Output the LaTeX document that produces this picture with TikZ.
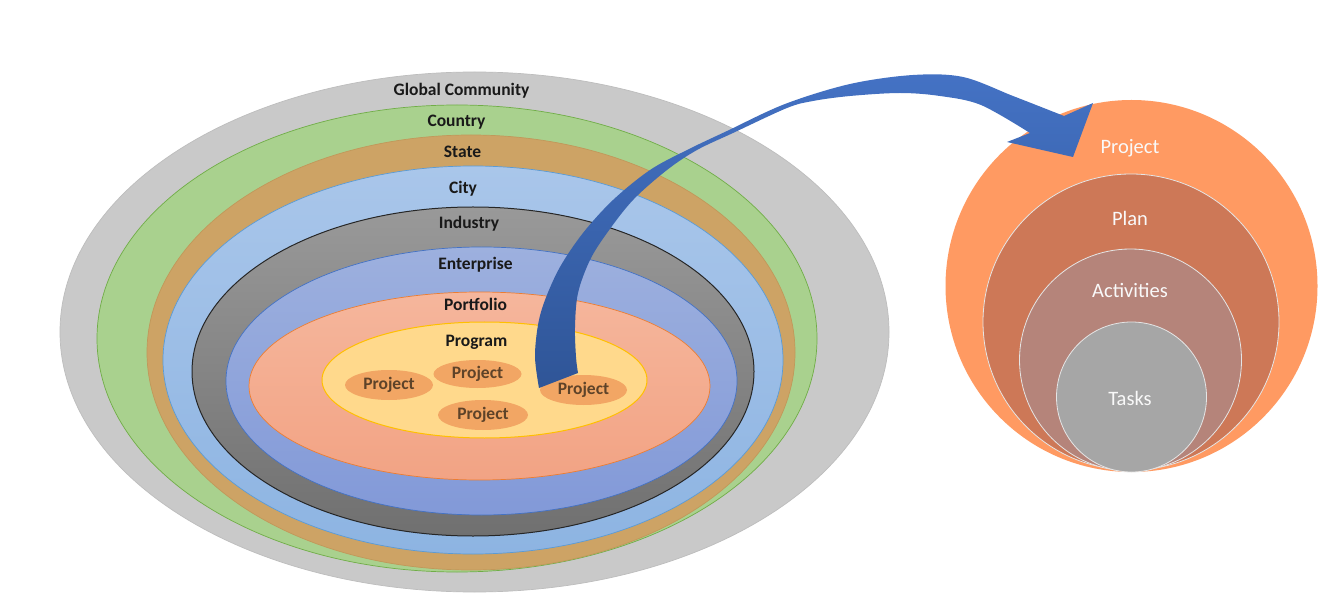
\documentclass[tikz,border=0pt]{standalone}
\usepackage{fontspec}
\setmainfont{Carlito}
\usetikzlibrary{shapes.geometric}
\definecolor{ringgray}{HTML}{C9C9C9}
\definecolor{ringgrayline}{HTML}{BDBDBD}
\definecolor{ringgreen}{HTML}{A9D18E}
\definecolor{ringgreenline}{HTML}{70AD47}
\definecolor{ringtan}{HTML}{CDA365}
\definecolor{ringtanline}{HTML}{C1985A}
\definecolor{ringskytop}{HTML}{A9C6EA}
\definecolor{ringskybot}{HTML}{8DB4E2}
\definecolor{ringskyline}{HTML}{5B9BD5}
\definecolor{ringsteeltop}{HTML}{999999}
\definecolor{ringsteelbot}{HTML}{707070}
\definecolor{ringbluetop}{HTML}{9DB0DE}
\definecolor{ringbluebot}{HTML}{8299D8}
\definecolor{ringblueline}{HTML}{4472C4}
\definecolor{ringsalmontop}{HTML}{F5B69C}
\definecolor{ringsalmonbot}{HTML}{F2A384}
\definecolor{ringsalmonline}{HTML}{ED7D31}
\definecolor{ringyellow}{HTML}{FFD98C}
\definecolor{ringyellowline}{HTML}{FFC000}
\definecolor{projorange}{HTML}{F2A664}
\definecolor{projtext}{HTML}{5E4329}
\definecolor{discproject}{HTML}{FF9A62}
\definecolor{discplan}{HTML}{CD7857}
\definecolor{discact}{HTML}{B5847A}
\definecolor{disctask}{HTML}{A6A6A6}
\definecolor{arrowtop}{HTML}{4472C4}
\definecolor{arrowbase}{HTML}{2F5597}
\tikzstyle{band}=[ellipse, inner sep=0pt, line width=0.7pt]
\tikzstyle{tag}=[font=\fontsize{17.5}{21}\selectfont\bfseries, text=black!90, anchor=base, inner sep=0pt]
\tikzstyle{proj}=[ellipse, fill=projorange, inner sep=0pt, minimum width=88pt, minimum height=30pt, font=\fontsize{17.5}{21}\selectfont\bfseries, text=projtext]
\tikzstyle{disc}=[circle, inner sep=0pt, draw=white!80!gray, line width=0.8pt]
\tikzstyle{disctag}=[font=\fontsize{20.5}{24}\selectfont, text=white!95!gray, anchor=base, inner sep=0pt]

\begin{document}
\begin{tikzpicture}[x=1pt, y=-1pt]
\useasboundingbox (0,0) rectangle (1335,593);
\fill[white] (0,0) rectangle (1335,593);
% nested rings, outside in
\node[band, fill=ringgray, draw=ringgrayline, minimum width=829pt, minimum height=520pt] at (474.5, 332) (global) {};
\node[band, fill=ringgreen, draw=ringgreenline, minimum width=720pt, minimum height=467pt] at (457, 338.5) (country) {};
\node[band, fill=ringtan, draw=ringtanline, minimum width=648pt, minimum height=435pt] at (471, 352.5) (state) {};
\node[band, top color=ringskytop, bottom color=ringskybot, draw=ringskyline, minimum width=620pt, minimum height=388pt] at (473, 360) (city) {};
\node[band, top color=ringsteeltop, bottom color=ringsteelbot, draw=black!85, line width=1pt, minimum width=562pt, minimum height=329pt] at (473, 371.5) (industry) {};
\node[band, top color=ringbluetop, bottom color=ringbluebot, draw=ringblueline, minimum width=511pt, minimum height=268pt] at (481.5, 381) (enterprise) {};
\node[band, top color=ringsalmontop, bottom color=ringsalmonbot, draw=ringsalmonline, minimum width=461pt, minimum height=188pt] at (479.5, 386) (portfolio) {};
\node[band, fill=ringyellow, draw=ringyellowline, line width=1pt, minimum width=325pt, minimum height=116pt] at (484.5, 380) (program) {};
\node[proj] at (389, 385) (p1) {Project};
\node[proj, minimum height=28pt] at (477.5, 374) (p2) {Project};
\node[proj, minimum width=90pt] at (483, 415) (p3) {Project};
\node[proj, minimum width=87pt] at (583.5, 390) (p4) {Project};
% project breakdown
\node[disc, fill=discproject, draw=none, minimum size=372pt] at (1131.5, 286) (dproject) {};
\node[disc, fill=discplan, minimum size=296pt] at (1131, 322) (dplan) {};
\node[disc, fill=discact, minimum size=222pt] at (1130.5, 360) (dact) {};
\node[disc, fill=disctask, minimum size=150pt] at (1131.5, 397) (dtask) {};
% curved block arrow
\shade[top color=arrowtop, bottom color=arrowbase]
  plot[smooth, tension=0.55] coordinates {(539,388) (535,357) (538,325) (545,300) (560,267) (583,233) (613,200) (650,170) (687,150) (727,131) (785,104) (850,84) (913,75) (963,77) (1013,96) (1064,116)}
  -- (1093,103) -- (1073,157) -- (1007,142)
  -- plot[smooth, tension=0.55] coordinates {(1030,133) (981,105) (940,96) (900,93) (850,96) (813,101) (787,108) (733,133) (697,150) (667,170) (633,200) (607,233) (590,260) (578,293) (575,327) (576,357) (578,373)}
  -- cycle;
% labels
\node[tag] at (461.5, 96) (lglobal) {Global Community};
\node[tag] at (456.5, 126.5) (lcountry) {Country};
\node[tag] at (462.5, 158) (lstate) {State};
\node[tag] at (463, 194) (lcity) {City};
\node[tag] at (469, 229) (lindustry) {Industry};
\node[tag] at (475.5, 270) (lenterprise) {Enterprise};
\node[tag] at (475.5, 310.5) (lportfolio) {Portfolio};
\node[tag] at (476.5, 346.5) (lprogram) {Program};
\node[disctag] at (1130, 154) (lproject) {Project};
\node[disctag] at (1130, 226) (lplan) {Plan};
\node[disctag] at (1130, 298) (lact) {Activities};
\node[disctag] at (1130, 405.5) (ltask) {Tasks};
\end{tikzpicture}
\end{document}
